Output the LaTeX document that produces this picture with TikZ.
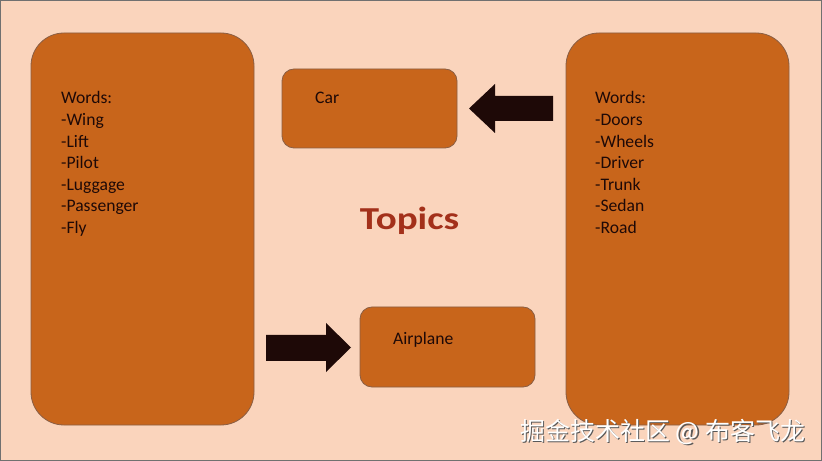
\documentclass[tikz,border=0pt]{standalone}
\usepackage{fontspec}
\setmainfont{Carlito}
\newfontfamily\cjk{Noto Sans CJK SC}
\definecolor{bg}{HTML}{FAD4BC}
\definecolor{boxfill}{HTML}{C8651B}
\definecolor{boxline}{HTML}{8A5E44}
\definecolor{arrowfill}{HTML}{1E0907}
\definecolor{topic}{HTML}{A3301A}
\definecolor{frame}{HTML}{707070}
\begin{document}
\begin{tikzpicture}[x=1bp,y=-1bp,
  bigbox/.style={draw=boxline,fill=boxfill,line width=0.8bp,rounded corners=33bp},
  smallbox/.style={draw=boxline,fill=boxfill,line width=0.8bp,rounded corners=12bp},
  label/.style={inner sep=0pt,anchor=base west,font=\fontsize{17.6bp}{21.6bp}\selectfont,text=arrowfill,align=left},
  blockarrow/.style={fill=arrowfill,draw=none}]
\useasboundingbox (0,0) rectangle (822,461);
\fill[bg] (0,0) rectangle (822,461);
\draw[frame,line width=1.5bp] (0.75,0.75) rectangle (821.25,460.25);
% boxes
\draw[bigbox] (31,33) rectangle (254,425);
\draw[bigbox] (566,33) rectangle (789,425);
\draw[smallbox] (282,69) rectangle (457,148);
\draw[smallbox] (360,307) rectangle (535,387);
% texts (anchor = baseline of the last line)
\node[label] (lw) at (61,233.6) {Words:\\-Wing\\-Lift\\-Pilot\\-Luggage\\-Passenger\\-Fly};
\node[label] (rw) at (595,233.6) {Words:\\-Doors\\-Wheels\\-Driver\\-Trunk\\-Sedan\\-Road};
\node[label] (car) at (315,104) {Car};
\node[label] (air) at (393,345) {Airplane};
\node[inner sep=0pt,anchor=base,font=\fontsize{32bp}{38bp}\selectfont\bfseries,text=topic] (topics) at (409.5,230) {\scalebox{1.22}[1]{Topics}};
% arrows
\fill[blockarrow] (553,96) -- (495,96) -- (495,84) -- (469,108.5) -- (495,133) -- (495,121) -- (553,121) -- cycle;
\fill[blockarrow] (266,335) -- (326,335) -- (326,323) -- (351,347.5) -- (326,372) -- (326,361) -- (266,361) -- cycle;
% watermark
\node[inner sep=0pt,anchor=base west,font=\cjk\fontsize{25bp}{29bp}\selectfont,text=gray!70!black] at (521.2,441.2) {掘金技术社区 @ 布客飞龙};
\node[inner sep=0pt,anchor=base west,font=\cjk\fontsize{25bp}{29bp}\selectfont,text=white] (wm) at (520,440) {掘金技术社区 @ 布客飞龙};
\end{tikzpicture}
\end{document}
